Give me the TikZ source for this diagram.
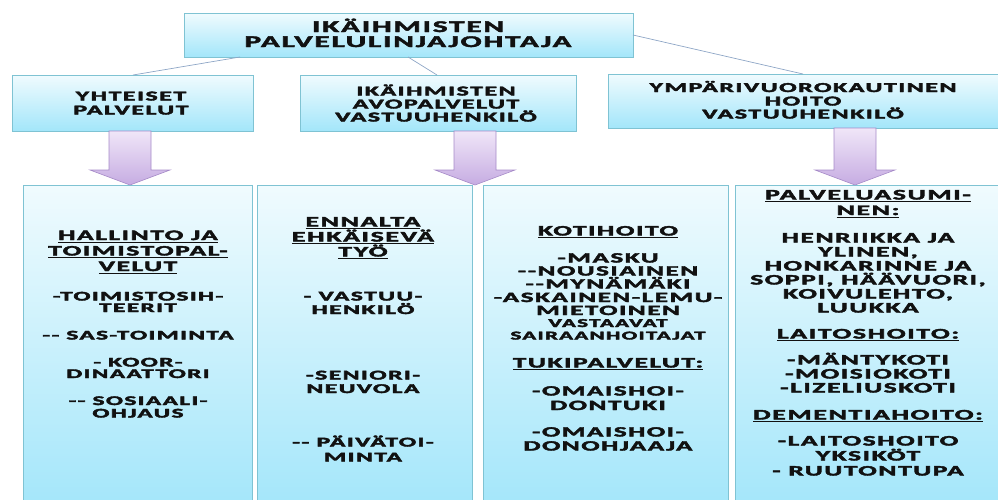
\documentclass[tikz,border=0pt]{standalone}
\usepackage{fontspec}
\usepackage{graphicx}
\newfontfamily\wfont[LetterSpace=6]{Carlito}
\usetikzlibrary{calc}

\definecolor{boxtop}{HTML}{F0FBFE}
\definecolor{boxbot}{HTML}{A3E6FA}
\definecolor{boxedge}{HTML}{7FC3D3}
\definecolor{arrtop}{HTML}{F0E6F8}
\definecolor{arrbot}{HTML}{C6ACE2}
\definecolor{arredge}{HTML}{A68BC8}
\definecolor{linkc}{HTML}{8EA6C6}
\definecolor{ink}{HTML}{111111}

% wide, heavy lettering: bold Carlito stretched horizontally and outlined
\newcommand\wt[1]{\scalebox{1.9}[1]{\special{pdf:literal direct 2 Tr 0.35 w}#1\special{pdf:literal direct 0 Tr}}}
% underlined heading with a solid rule under the letters
\newcommand\ulined[1]{\setbox0=\hbox{#1}\leavevmode\rlap{\rule[-2.4pt]{\wd0}{0.9pt}}\box0}

\tikzset{
  panel/.style={draw=boxedge, line width=0.9pt, top color=boxtop, bottom color=boxbot,
    inner sep=0pt, outer sep=0pt},
  link/.style={draw=linkc, line width=0.7pt},
  blockarrow/.style={draw=arredge, line width=0.6pt, top color=arrtop, bottom color=arrbot},
  txt/.style={text=ink, anchor=base, inner sep=0pt,
    font=\wfont\bfseries\fontsize{#1}{#1}\selectfont},
}

% downward block arrow from the bottom of one box to the top of another
\newcommand\flowarrow[3]{%
  \shade[blockarrow] let \p1=#1, \p2=#2 in
    (\x1+#3-21pt,\y1) -- (\x1+#3+21pt,\y1) -- (\x1+#3+21pt,\y2+15pt)
    -- (\x1+#3+40pt,\y2+15pt) -- (\x1+#3,\y2) -- (\x1+#3-40pt,\y2+15pt)
    -- (\x1+#3-21pt,\y2+15pt) -- cycle;}

\begin{document}
\begin{tikzpicture}[x=1pt,y=-1pt]
\useasboundingbox (0,0) rectangle (998,499);
\clip (0,0) rectangle (998,499);

% boxes
\node[panel, minimum width=449pt, minimum height=44pt] (chief) at (408.5,35) {};
\node[panel, minimum width=241pt, minimum height=56pt] (yht) at (132.5,103) {};
\node[panel, minimum width=276pt, minimum height=56pt] (avo) at (438,103) {};
\node[panel, minimum width=392pt, minimum height=54pt] (ymp) at (804,101) {};

\node[panel, minimum width=229pt, minimum height=325pt] (b1) at (137.5,347.5) {};
\node[panel, minimum width=215pt, minimum height=325pt] (b2) at (364.5,347.5) {};
\node[panel, minimum width=245pt, minimum height=325pt] (b3) at (605.5,347.5) {};
\node[panel, minimum width=265pt, minimum height=325pt] (b4) at (867.5,347.5) {};

% connectors from the head box
\draw[link] ($(chief.south west)+(56,0)$) -- ($(yht.north west)+(121,0)$);
\draw[link] ($(chief.south west)+(224,0)$) -- ($(avo.north west)+(137,0)$);
\draw[link] (chief.east) -- ($(ymp.north west)+(195,0)$);

% block arrows
\flowarrow{(yht.south)}{(b1.north)}{-2.5pt}
\flowarrow{(avo.south)}{(b2.north)}{37pt}
\flowarrow{(ymp.south)}{(b4.north)}{51pt}

% head box text
\node[txt=16.4] (t1) at (408,32) {\wt{IKÄIHMISTEN}};
\node[txt=16.4] (t2) at (408,47) {\wt{PALVELULINJAJOHTAJA}};

% second row text
\node[txt=13.6] (y1) at (131,100.5) {\wt{YHTEISET}};
\node[txt=13.6] (y2) at (131,114.5) {\wt{PALVELUT}};
\node[txt=13.6] (a1) at (436,95.5) {\wt{IKÄIHMISTEN}};
\node[txt=13.6] (a2) at (436,108.5) {\wt{AVOPALVELUT}};
\node[txt=13.6] (a3) at (436,121.5) {\wt{VASTUUHENKILÖ}};
\node[txt=13.6] (m1) at (803,92) {\wt{YMPÄRIVUOROKAUTINEN}};
\node[txt=13.6] (m2) at (803,105.5) {\wt{HOITO}};
\node[txt=13.6] (m3) at (803,118.5) {\wt{VASTUUHENKILÖ}};

% column 1
\foreach \t/\y [count=\i] in {
  {HALLINTO JA}/240, {TOIMISTOPAL-}/255.5, {VELUT}/271}
  \node[txt=14.4] (c1h-\i) at (138,\y) {\wt{\ulined{\t}}};
\foreach \t/\y [count=\i] in {
  {-TOIMISTOSIH-}/300.5, {TEERIT}/312, {-- SAS-TOIMINTA}/339.5,
  {- KOOR-}/366.5, {DINAATTORI}/378, {-- SOSIAALI-}/405, {OHJAUS}/417.5}
  \node[txt=13.2] (c1-\i) at (138,\y) {\wt{\t}};

% column 2
\foreach \t/\y [count=\i] in {
  {ENNALTA}/226.5, {EHKÄISEVÄ}/241.5, {TYÖ}/256.5}
  \node[txt=14.6] (c2h-\i) at (363,\y) {\wt{\ulined{\t}}};
\foreach \t/\y [count=\i] in {
  {- VASTUU-}/300.5, {HENKILÖ}/314, {-SENIORI-}/379.5, {NEUVOLA}/393,
  {-- PÄIVÄTOI-}/446.5, {MINTA}/461.5}
  \node[txt=13.4] (c2-\i) at (363,\y) {\wt{\t}};

% column 3
\foreach \t/\y [count=\i] in {
  {KOTIHOITO}/235.5, {TUKIPALVELUT:}/367.5}
  \node[txt=14.4] (c3h-\i) at (608,\y) {\wt{\ulined{\t}}};
\foreach \t/\y [count=\i] in {
  {-MASKU}/262.5, {--NOUSIAINEN}/275.5, {--MYNÄMÄKI}/288.5,
  {-ASKAINEN-LEMU-}/302, {MIETOINEN}/315, {-OMAISHOI-}/395.5, {DONTUKI}/410,
  {-OMAISHOI-}/436.5, {DONOHJAAJA}/450.5}
  \node[txt=14.2] (c3-\i) at (608,\y) {\wt{\t}};
\node[txt=12] (c3-s1) at (608,327) {\wt{VASTAAVAT}};
\node[txt=12] (c3-s2) at (608,339.5) {\wt{SAIRAANHOITAJAT}};

% column 4
\foreach \t/\y [count=\i] in {
  {PALVELUASUMI-}/199.5, {NEN:}/215, {LAITOSHOITO:}/338.5, {DEMENTIAHOITO:}/419.5}
  \node[txt=14.6] (c4h-\i) at (868,\y) {\wt{\ulined{\t}}};
\foreach \t/\y [count=\i] in {
  {HENRIIKKA JA}/242.5, {YLINEN,}/256.5, {HONKARINNE JA}/270.5,
  {SOPPI, HÄÄVUORI,}/284.5, {KOIVULEHTO,}/298.5, {LUUKKA}/312.5,
  {-MÄNTYKOTI}/364.5, {-MOISIOKOTI}/378.5, {-LIZELIUSKOTI}/392.5,
  {-LAITOSHOITO}/445.5, {YKSIKÖT}/460.5, {- RUUTONTUPA}/475.5}
  \node[txt=14.4] (c4-\i) at (868,\y) {\wt{\t}};
\end{tikzpicture}
\end{document}
